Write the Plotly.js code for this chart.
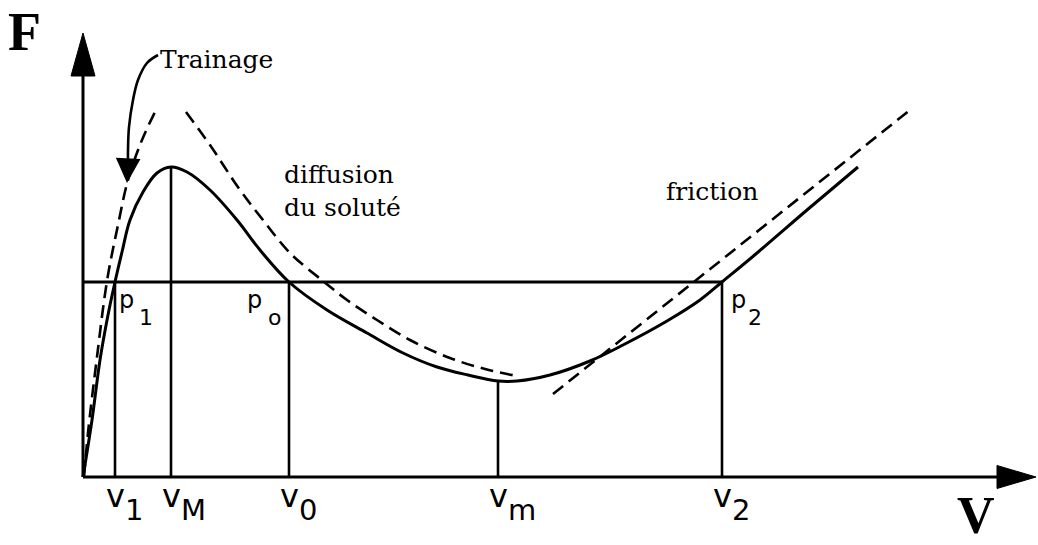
<!DOCTYPE html>
<html>
<head>
<meta charset="utf-8">
<script src="https://cdn.plot.ly/plotly-3.0.1.min.js"></script>
<style>
  html, body { margin: 0; padding: 0; background: #ffffff; }
  #chart { width: 1038px; height: 545px; }
</style>
</head>
<body>
<div id="chart"></div>
<script>
// ---- Data (units: V horizontal, F vertical) ----
// Main force curve F(V)
const curveV = [0, 0.9, 1.7, 2.5, 3.2, 3.9, 4.7, 6.0, 7.4, 8.8, 10.4, 12.7, 15.4, 17.7, 20.6, 24.4, 28.4, 32.0, 35.4, 38.5, 41.5, 43.4, 46.7, 50.7, 54.0, 58.4, 61.7, 63.9, 67.4, 72.4, 77.5];
const curveF = [0, 5.7, 11.7, 16.2, 19.5, 22.5, 25.7, 28.5, 30.4, 31.0, 30.5, 28.7, 25.7, 22.7, 19.5, 16.7, 14.4, 12.4, 11.0, 10.2, 9.6, 9.6, 10.2, 11.6, 13.2, 15.6, 17.7, 19.5, 22.4, 26.7, 31.0];

// Dashed asymptotes
const trainV = [0.1, 0.5, 1.4, 2.4, 3.5, 4.5, 5.9, 7.3];
const trainF = [0, 4.4, 12.0, 19.6, 25.2, 29.7, 33.7, 36.7];
const diffV = [10.3, 12.7, 15.7, 18.0, 20.7, 24.0, 26.4, 29.4, 32.7, 36.7, 40.2, 43.4];
const diffF = [36.5, 33.2, 28.7, 25.7, 22.4, 19.6, 17.7, 15.7, 13.7, 11.9, 10.8, 10.1];
const fricV = [47.0, 82.7];
const fricF = [8.3, 36.7];

// Characteristic velocities and level
const pLevel = 19.5;
const vNames = ['v', 'v', 'v', 'v', 'v'];
const vSubs = ['1', 'M', '0', 'm', '2'];
const vPos = [3.2, 8.8, 20.6, 41.5, 63.9];
const vTops = [19.5, 31.0, 19.5, 9.6, 19.5];

const pNames = ['p', 'p', 'p'];
const pSubs = ['1', 'o', '2'];
const pAt = [3.2, 20.6, 63.9];

// Curved pointer from "Trainage"
const ptrV = [7.5, 6.4, 5.5, 5.0, 4.6, 4.5, 4.5];
const ptrF = [42.2, 41.4, 39.7, 37.7, 35.0, 32.7, 31.2];
const ptrTip = [4.4, 29.4];

// Texts
const axisNames = ['F', 'V'];
const curveNotes = ['Trainage', 'diffusion', 'du soluté', 'friction'];
const noteV = [7.65, 20.05, 20.05, 58.25];
const noteF = [41.8, 30.27, 26.97, 28.57];

// Axis extents
const yTip = 44.4, xTip = 95.3;

// ---- Styles ----
const INK = '#000000';
const serif = '"DejaVu Serif", "Liberation Serif", serif';
const sans = '"DejaVu Sans", "Liberation Sans", sans-serif';
const bigSerif = '"Liberation Serif", "DejaVu Serif", serif';

const traces = [];
function line(x, y, w, dash, shape) {
  traces.push({
    x: x, y: y, type: 'scatter', mode: 'lines', hoverinfo: 'skip',
    line: { color: INK, width: w, dash: dash || 'solid', shape: shape || 'linear' }
  });
}

// axes
const yHeadLen = 4.3, yHeadHalf = 1.2;
const xHeadLen = 3.9, xHeadHalf = 1.15;
line([0, 0], [0, yTip - yHeadLen + 0.5], 3);
line([0, xTip - xHeadLen + 0.5], [0, 0], 3);
traces.push({
  x: [0 - yHeadHalf, 0, 0 + yHeadHalf, 0 - yHeadHalf],
  y: [yTip - yHeadLen, yTip, yTip - yHeadLen, yTip - yHeadLen],
  type: 'scatter', mode: 'lines', fill: 'toself', fillcolor: INK,
  line: { color: INK, width: 1 }, hoverinfo: 'skip'
});
traces.push({
  x: [xTip - xHeadLen, xTip, xTip - xHeadLen, xTip - xHeadLen],
  y: [-xHeadHalf, 0, xHeadHalf, -xHeadHalf],
  type: 'scatter', mode: 'lines', fill: 'toself', fillcolor: INK,
  line: { color: INK, width: 1 }, hoverinfo: 'skip'
});

// horizontal level line
line([0, vPos[vPos.length - 1]], [pLevel, pLevel], 3);

// verticals
const vx = [], vy = [];
vPos.forEach((v, i) => { vx.push(v, v, null); vy.push(0, vTops[i], null); });
line(vx, vy, 2.6);

// dashed asymptotes
line(trainV, trainF, 2.6, '13px,7px', 'spline');
line(diffV, diffF, 2.6, '13px,7px', 'spline');
line(fricV, fricF, 2.6, '13px,7px');

// main curve
line(curveV, curveF, 3, 'solid', 'spline');

// pointer curve
line(ptrV, ptrF, 2.6, 'solid', 'spline');

// ---- Annotations ----
const ann = [];
function txt(x, y, s, fam, size, xanchor, xshift, yshift, bold) {
  ann.push({
    x: x, y: y, xref: 'x', yref: 'y', text: bold ? '<b>' + s + '</b>' : s,
    showarrow: false, xanchor: xanchor, yanchor: 'middle',
    xshift: xshift || 0, yshift: yshift || 0,
    borderpad: 0, borderwidth: 0,
    font: { family: fam, size: size, color: INK }, align: 'left'
  });
}
// axis names
txt(-5.85, 44.5, axisNames[0], bigSerif, 54, 'center', 0, 0, true);
txt(89.3, -3.85, axisNames[1], bigSerif, 52, 'center', 0, 0, true);
// curve notes
curveNotes.forEach((s, i) => txt(noteV[i], noteF[i], s, serif, 25, 'left'));
// v labels
vPos.forEach((v, i) => {
  txt(v, 0, vNames[i], sans, 32, 'center', 0, -19);
  txt(v, 0, vSubs[i], sans, 29, 'left', 10, -33);
});
// p labels
const pMainShift = [4, -42, 9];
const pSubShift = [23.5, -21, 26];
pAt.forEach((v, i) => {
  txt(v, pLevel, pNames[i], sans, 24, 'left', pMainShift[i], -17.7);
  txt(v, pLevel, pSubs[i], sans, 22, 'left', pSubShift[i], -35);
});
// arrow head for the pointer
ann.push({
  x: ptrTip[0], y: ptrTip[1], ax: ptrV[ptrV.length - 1], ay: ptrF[ptrF.length - 1] + 0.3,
  xref: 'x', yref: 'y', axref: 'x', ayref: 'y', text: '', showarrow: true,
  arrowhead: 2, arrowsize: 1.9, arrowwidth: 2.6, arrowcolor: INK
});

const layout = {
  width: 1038, height: 545,
  margin: { l: 0, r: 0, t: 0, b: 0, pad: 0 },
  paper_bgcolor: '#ffffff', plot_bgcolor: '#ffffff',
  showlegend: false,
  xaxis: { range: [-8.3, 95.5], visible: false, fixedrange: true },
  yaxis: { range: [-6.8, 47.7], visible: false, fixedrange: true },
  annotations: ann
};

Plotly.newPlot('chart', traces, layout, { staticPlot: true, displayModeBar: false });
</script>
</body>
</html>
